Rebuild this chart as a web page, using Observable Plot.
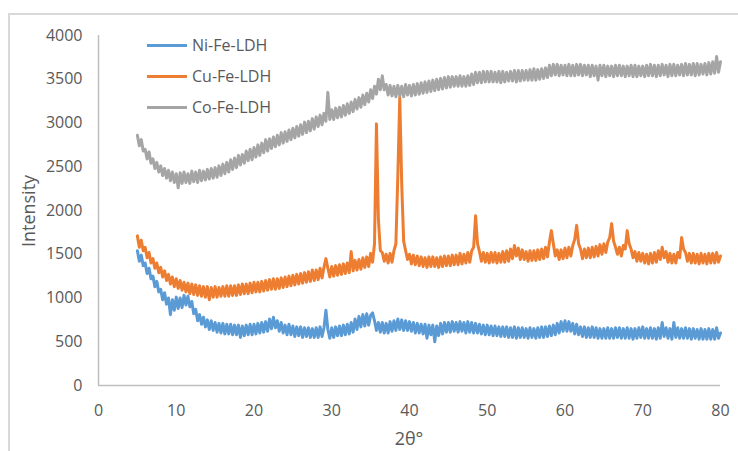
<!DOCTYPE html>
<html>
<head>
<meta charset="utf-8">
<script src="https://cdn.jsdelivr.net/npm/d3@7"></script>
<script src="https://cdn.jsdelivr.net/npm/@observablehq/plot@0.6"></script>
<style>
  body { margin: 0; background: #fff; overflow: hidden; }
  #wrap { position: relative; width: 738px; height: 451px; font-family: "Open Sans", sans-serif; color: #595959; overflow: hidden; }
  #frame { position: absolute; left: 8px; top: 13px; width: 760px; height: 470px; border: 2px solid #d9d9d9; box-sizing: border-box; }
  #chart { position: absolute; left: 0; top: 0; }
  #legend { position: absolute; left: 147px; top: 30px; font-size: 16px; line-height: 31px; }
  #legend .item { display: flex; align-items: center; height: 31px; }
  #legend .swatch { width: 40px; height: 3px; margin-right: 5px; }
  .ytitle { position: absolute; left: 28px; top: 211px; transform: translate(-50%, -50%) rotate(-90deg); font-size: 18px; white-space: nowrap; }
  .xtitle { position: absolute; left: 409px; top: 438px; transform: translate(-50%, -50%); font-size: 18px; white-space: nowrap; }
</style>
</head>
<body>
<div id="wrap">
  <div id="frame"></div>
  <div id="chart"></div>
  <div id="legend"></div>
  <div class="ytitle">Intensity</div>
  <div class="xtitle">2θ°</div>
</div>
<script>
// Series names and colours (Excel defaults)
const seriesNames = ["Ni-Fe-LDH", "Cu-Fe-LDH", "Co-Fe-LDH"];
const seriesColors = ["#5B9BD5", "#ED7D31", "#A5A5A5"];

// Axis ticks
const xTicks = [0, 10, 20, 30, 40, 50, 60, 70, 80];
const yTicks = [0, 500, 1000, 1500, 2000, 2500, 3000, 3500, 4000];

// 2θ sampling: 5° to 80°, 0.25° step (301 points)
const thetaStart = 5, thetaStep = 0.25;

// Intensities (one group per degree: x.00, x.25, x.50, x.75)
const niFe = [
  1540,1420,1490,1370, 1400,1280,1340,1220, 1250,1130,1190,1070, 1100,980,1060,930,
  1000,810,980,860, 1010,880,1000,890, 1030,920,1020,900, 960,820,870,740,
  810,700,780,670, 750,640,740,630, 720,610,710,600, 710,590,700,590,
  700,580,690,580, 690,550,680,570, 690,580,700,580, 700,590,710,600,
  720,610,730,620, 760,650,780,660, 740,620,720,600, 690,580,700,580,
  680,560,670,570, 670,550,660,560, 660,550,650,550, 660,550,670,560,
  660,860,640,540, 660,550,670,570, 680,570,690,580, 700,590,720,610,
  760,640,790,670, 810,680,820,690, 800,830,740,630, 720,610,720,600,
  710,600,730,620, 740,630,760,640, 750,630,740,630, 730,620,720,600,
  710,600,700,590, 700,540,690,580, 690,500,680,570, 710,590,720,610,
  720,610,730,620, 720,610,730,620, 720,600,730,610, 720,600,710,600,
  700,590,690,580, 690,580,680,570, 680,570,670,560, 670,560,670,550,
  660,550,670,540, 660,550,660,550, 650,540,660,550, 650,540,660,550,
  670,550,670,560, 680,570,690,580, 710,600,730,620, 740,620,730,620,
  710,590,700,580, 670,560,670,550, 660,550,670,550, 660,540,650,540,
  650,540,660,540, 650,540,660,550, 660,540,650,540, 660,540,650,530,
  650,540,660,550, 670,540,650,540, 660,540,650,530, 660,540,720,560,
  660,540,650,530, 720,550,660,540, 650,540,660,540, 650,530,650,540,
  640,530,650,530, 640,530,650,530, 640,530,660,540,
  600
];
const cuFe = [
  1710,1580,1660,1540, 1580,1460,1520,1400, 1450,1340,1400,1290, 1350,1240,1310,1200,
  1270,1160,1240,1130, 1220,1110,1200,1090, 1180,1070,1170,1050, 1160,1040,1150,1030,
  1140,1020,1130,1010, 1130,980,1120,1010, 1130,1010,1120,1020, 1130,1020,1140,1020,
  1140,1030,1140,1030, 1150,1040,1160,1050, 1160,1050,1170,1060, 1180,1070,1180,1070,
  1190,1080,1200,1090, 1210,1100,1220,1100, 1220,1110,1230,1120, 1240,1130,1250,1140,
  1260,1150,1270,1160, 1280,1170,1290,1180, 1300,1190,1320,1200, 1320,1210,1340,1230,
  1350,1450,1340,1240, 1360,1250,1370,1260, 1380,1270,1390,1280, 1400,1290,1530,1310,
  1430,1320,1440,1330, 1460,1350,1470,1360, 1510,1410,1620,2990, 1900,1540,1520,1420,
  1500,1400,1510,1410, 1540,1620,2400,3290, 2300,1650,1540,1440, 1500,1390,1490,1380,
  1480,1370,1470,1360, 1460,1350,1470,1360, 1470,1360,1460,1350, 1470,1360,1480,1370,
  1480,1370,1490,1380, 1490,1380,1510,1390, 1500,1400,1520,1410, 1540,1580,1940,1620,
  1530,1420,1520,1410, 1510,1400,1520,1410, 1520,1400,1510,1410, 1530,1410,1540,1420,
  1560,1450,1600,1480, 1570,1440,1550,1440, 1530,1420,1540,1430, 1540,1430,1550,1440,
  1560,1450,1580,1470, 1640,1770,1620,1480, 1550,1440,1550,1450, 1570,1460,1580,1480,
  1600,1670,1830,1620, 1560,1450,1560,1460, 1570,1460,1580,1470, 1590,1480,1610,1500,
  1620,1520,1640,1690, 1850,1650,1580,1500, 1580,1480,1600,1560, 1770,1620,1560,1460,
  1530,1420,1520,1420, 1510,1400,1500,1390, 1510,1400,1520,1410, 1540,1440,1580,1460,
  1530,1410,1510,1400, 1500,1400,1520,1460, 1690,1560,1520,1420, 1510,1400,1510,1400,
  1500,1390,1510,1400, 1500,1390,1510,1400, 1510,1400,1520,1410,
  1480
];
const coFe = [
  2860,2740,2810,2680, 2700,2590,2670,2540, 2590,2480,2550,2440, 2510,2400,2480,2370,
  2460,2340,2440,2320, 2420,2260,2430,2310, 2440,2320,2420,2310, 2450,2330,2440,2320,
  2460,2340,2450,2350, 2470,2360,2480,2370, 2490,2380,2510,2400, 2530,2420,2550,2440,
  2580,2470,2600,2490, 2630,2520,2640,2540, 2680,2570,2700,2580, 2720,2610,2750,2630,
  2770,2660,2810,2680, 2820,2710,2840,2730, 2860,2750,2890,2770, 2900,2790,2920,2810,
  2940,2830,2960,2850, 2980,2870,3010,2890, 3020,2910,3050,2930, 3070,2960,3090,2980,
  3110,3020,3350,3040, 3150,3040,3170,3060, 3180,3070,3200,3090, 3220,3110,3240,3130,
  3270,3160,3290,3180, 3320,3210,3340,3240, 3380,3280,3420,3330, 3500,3380,3540,3380,
  3440,3320,3430,3310, 3420,3300,3430,3310, 3420,3300,3440,3320, 3430,3310,3440,3320,
  3450,3330,3460,3340, 3470,3350,3480,3360, 3490,3370,3500,3380, 3510,3390,3520,3400,
  3530,3410,3530,3420, 3530,3420,3540,3420, 3530,3420,3540,3430, 3560,3440,3580,3460,
  3580,3460,3590,3470, 3590,3470,3590,3470, 3580,3470,3590,3460, 3590,3470,3580,3480,
  3590,3480,3600,3470, 3600,3480,3600,3490, 3600,3490,3610,3490, 3620,3490,3610,3500,
  3620,3510,3630,3520, 3660,3540,3670,3550, 3670,3540,3660,3550, 3660,3540,3670,3540,
  3660,3540,3670,3550, 3670,3540,3660,3550, 3660,3530,3660,3540, 3650,3490,3660,3540,
  3660,3530,3650,3540, 3650,3530,3660,3540, 3660,3540,3650,3530, 3650,3540,3660,3530,
  3660,3530,3650,3540, 3650,3530,3660,3540, 3670,3540,3660,3530, 3660,3540,3670,3550,
  3660,3530,3670,3540, 3670,3540,3660,3550, 3670,3540,3680,3550, 3670,3550,3680,3540,
  3680,3550,3670,3560, 3680,3550,3690,3560, 3700,3570,3760,3580,
  3700
];

const seriesValues = [niFe, cuFe, coFe];
const rows = seriesNames.flatMap((name, s) =>
  seriesValues[s].map((v, i) => ({series: name, x: thetaStart + i * thetaStep, y: v}))
);

const chart = Plot.plot({
  width: 738,
  height: 451,
  marginLeft: 98,
  marginRight: 18,
  marginTop: 35,
  marginBottom: 66,
  style: {fontFamily: "'Open Sans', sans-serif", fontSize: "16px", color: "#595959", background: "transparent", overflow: "visible"},
  x: {domain: [0, 80]},
  y: {domain: [0, 4000]},
  color: {domain: seriesNames, range: seriesColors},
  marks: [
    Plot.axisY(yTicks, {tickSize: 0, tickPadding: 16, tickFormat: d3.format("d"), label: null}),
    Plot.axisX(xTicks, {tickSize: 0, tickPadding: 19, tickFormat: d3.format("d"), label: null}),
    Plot.ruleX([0], {stroke: "#bfbfbf", strokeWidth: 1.5}),
    Plot.ruleY([0], {stroke: "#bfbfbf", strokeWidth: 1.5}),
    Plot.lineY(rows, {x: "x", y: "y", z: "series", stroke: "series", strokeWidth: 3, strokeLinejoin: "round"})
  ]
});
document.getElementById("chart").appendChild(chart);

const legend = d3.select("#legend");
seriesNames.forEach((name, i) => {
  const item = legend.append("div").attr("class", "item");
  item.append("div").attr("class", "swatch").style("background", seriesColors[i]);
  item.append("span").text(name);
});
</script>
</body>
</html>
